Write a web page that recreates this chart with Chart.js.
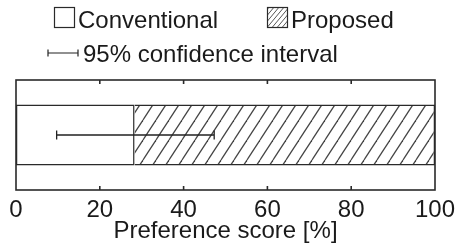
<!DOCTYPE html>
<html><head><meta charset="utf-8">
<script src="https://cdn.jsdelivr.net/npm/chart.js@4"></script>
<style>html,body{margin:0;padding:0;background:#fff;overflow:hidden}</style>
</head><body>
<canvas id="c" width="464" height="251"></canvas>
<script>
const categories = ['Preference'];
const conventionalScores = [28.3];
const proposedScores = [71.7];
const ciLow = [9.7];
const ciHigh = [47.3];
const xTicks = [0, 20, 40, 60, 80, 100];
const seriesLabels = ['Conventional', 'Proposed'];
const ciLabel = '95% confidence interval';
const axisTitle = 'Preference score [%]';

const FONT = '"Liberation Sans", Arial, Helvetica, sans-serif';
const INK = '#1a1a1a';
const FRAME = '#2a2a2a';

const canvas = document.getElementById('c');
const ctx = canvas.getContext('2d');

function makeHatch(w, h, color, lw) {
  const c = document.createElement('canvas');
  c.width = w; c.height = h;
  const g = c.getContext('2d');
  g.fillStyle = '#fff'; g.fillRect(0, 0, w, h);
  g.strokeStyle = color; g.lineWidth = lw;
  for (const dx of [-w, 0, w]) {
    g.beginPath(); g.moveTo(dx, h); g.lineTo(dx + w, 0); g.stroke();
  }
  return ctx.createPattern(c, 'repeat');
}
const hatch = makeHatch(13, 20, '#444', 1.25);
const legendHatch = makeHatch(5, 6, '#555', 1);

const framePlugin = {
  id: 'frame',
  afterDatasetsDraw(chart) {
    const {ctx, chartArea: a, scales: {x, y}} = chart;
    ctx.save();
    // error bars
    ctx.strokeStyle = '#222'; ctx.lineWidth = 1.3;
    categories.forEach((c, i) => {
      const py = y.getPixelForValue(i);
      const x1 = x.getPixelForValue(ciLow[i]), x2 = x.getPixelForValue(ciHigh[i]);
      ctx.beginPath();
      ctx.moveTo(x1, py); ctx.lineTo(x2, py);
      ctx.moveTo(x1, py - 4.5); ctx.lineTo(x1, py + 4.5);
      ctx.moveTo(x2, py - 4.5); ctx.lineTo(x2, py + 4.5);
      ctx.stroke();
    });
    // frame
    ctx.strokeStyle = FRAME; ctx.lineWidth = 1.6;
    ctx.strokeRect(a.left, a.top, a.right - a.left, a.bottom - a.top);
    ctx.beginPath();
    xTicks.forEach(v => {
      if (v === x.min || v === x.max) return;
      const px = x.getPixelForValue(v);
      ctx.moveTo(px, a.top); ctx.lineTo(px, a.top + 4);
      ctx.moveTo(px, a.bottom); ctx.lineTo(px, a.bottom - 4);
    });
    ctx.stroke();
    ctx.restore();
  },
  afterDraw(chart) {
    const ctx = chart.ctx;
    ctx.save();
    ctx.font = '24px ' + FONT;
    ctx.textBaseline = 'alphabetic';
    ctx.lineWidth = 1.2; ctx.strokeStyle = FRAME;
    // Conventional
    ctx.fillStyle = '#fff';
    ctx.fillRect(54.5, 7.5, 20, 20);
    ctx.strokeRect(54.5, 7.5, 20, 20);
    ctx.fillStyle = INK;
    ctx.fillText(seriesLabels[0], 78, 28);
    // Proposed
    ctx.fillStyle = legendHatch;
    ctx.fillRect(267.5, 7.5, 20, 20);
    ctx.strokeRect(267.5, 7.5, 20, 20);
    ctx.fillStyle = INK;
    ctx.fillText(seriesLabels[1], 291, 28);
    // CI
    ctx.strokeStyle = '#222'; ctx.lineWidth = 1.2;
    ctx.beginPath();
    ctx.moveTo(48, 53); ctx.lineTo(78, 53);
    ctx.moveTo(48, 49.5); ctx.lineTo(48, 56.5);
    ctx.moveTo(78, 49.5); ctx.lineTo(78, 56.5);
    ctx.stroke();
    ctx.fillText(ciLabel, 83, 62);
    ctx.restore();
  }
};

new Chart(ctx, {
  type: 'bar',
  data: {
    labels: categories,
    datasets: [
      {label: seriesLabels[0], data: conventionalScores, backgroundColor: '#fff', borderColor: FRAME, borderWidth: 1.5, borderSkipped: false},
      {label: seriesLabels[1], data: proposedScores, backgroundColor: hatch, borderColor: FRAME, borderWidth: 1.5, borderSkipped: 'start'}
    ]
  },
  options: {
    indexAxis: 'y',
    responsive: false,
    animation: false,
    devicePixelRatio: 1,
    datasets: {bar: {barPercentage: 0.555, categoryPercentage: 1}},
    layout: {padding: {left: 16, right: 29, top: 80, bottom: 0}},
    plugins: {legend: {display: false}, tooltip: {enabled: false}},
    scales: {
      x: {
        stacked: true, min: 0, max: 100,
        afterBuildTicks: s => { s.ticks = xTicks.map(v => ({value: v})); },
        grid: {display: false, drawTicks: false},
        border: {display: false},
        ticks: {font: {family: FONT, size: 24}, color: INK, padding: 6, maxRotation: 0, autoSkip: false},
        title: {display: true, text: axisTitle, font: {family: FONT, size: 24}, color: INK, padding: {top: 0, bottom: 5}},
        afterFit: s => { s.height = 61; }
      },
      y: {stacked: true, display: false}
    }
  },
  plugins: [framePlugin]
});
</script>
</body></html>
